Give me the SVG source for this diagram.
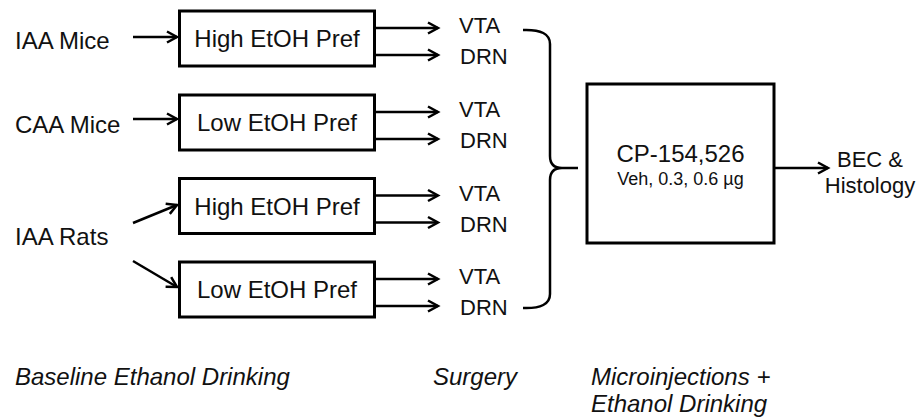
<svg xmlns="http://www.w3.org/2000/svg" width="921" height="420" viewBox="0 0 921 420">
  <style>
    text { font-family: "Liberation Sans", Arial, sans-serif; fill: #111; }
    .lbl { font-size: 24px; }
    .site { font-size: 22px; }
    .phase { font-size: 24px; font-style: italic; }
    .box { fill: #fff; stroke: #000; stroke-width: 3; }
    .arrow { fill: none; stroke: #000; stroke-width: 2.5; marker-end: url(#open); }
    .brace { fill: none; stroke: #000; stroke-width: 2.5; stroke-linejoin: round; }
  </style>
  <defs>
    <marker id="open" markerUnits="userSpaceOnUse" markerWidth="16" markerHeight="16" refX="12" refY="8" orient="auto" overflow="visible">
      <path d="M2,2.5 L12,8 L2,13.5" fill="none" stroke="#000" stroke-width="2.5" stroke-linejoin="miter"/>
    </marker>
  </defs>

  <rect width="921" height="420" fill="#fff"/>

  <!-- source groups -->
  <g id="iaa-mice"><text class="lbl" x="15" y="49">IAA Mice</text></g>
  <g id="caa-mice"><text class="lbl" x="15" y="133">CAA Mice</text></g>
  <g id="iaa-rats"><text class="lbl" x="15" y="245">IAA Rats</text></g>

  <!-- preference boxes -->
  <g id="mice-high">
    <rect class="box" x="179.5" y="11" width="195" height="55"/>
    <text class="lbl" x="277" y="47" text-anchor="middle">High EtOH Pref</text>
  </g>
  <g id="mice-low">
    <rect class="box" x="179.5" y="95" width="195" height="55"/>
    <text class="lbl" x="277" y="131" text-anchor="middle">Low EtOH Pref</text>
  </g>
  <g id="rats-high">
    <rect class="box" x="179.5" y="178.5" width="195" height="55"/>
    <text class="lbl" x="277" y="214.5" text-anchor="middle">High EtOH Pref</text>
  </g>
  <g id="rats-low">
    <rect class="box" x="179.5" y="262" width="195" height="55"/>
    <text class="lbl" x="277" y="298" text-anchor="middle">Low EtOH Pref</text>
  </g>

  <!-- surgery targets -->
  <g id="sites-1">
    <text class="site" x="459" y="33">VTA</text>
    <text class="site" x="460" y="64">DRN</text>
  </g>
  <g id="sites-2">
    <text class="site" x="459" y="117">VTA</text>
    <text class="site" x="460" y="148">DRN</text>
  </g>
  <g id="sites-3">
    <text class="site" x="459" y="200.5">VTA</text>
    <text class="site" x="460" y="231.5">DRN</text>
  </g>
  <g id="sites-4">
    <text class="site" x="459" y="284">VTA</text>
    <text class="site" x="460" y="315">DRN</text>
  </g>

  <!-- drug box -->
  <g id="cp-box">
    <rect class="box" x="587" y="84" width="187" height="159"/>
    <text class="lbl" x="680.5" y="162" text-anchor="middle">CP-154,526</text>
    <text x="680.5" y="185" text-anchor="middle" font-size="18">Veh, 0.3, 0.6 µg</text>
  </g>

  <g id="outcome">
    <text class="site" x="870" y="167" text-anchor="middle">BEC &amp;</text>
    <text class="site" x="870" y="193" text-anchor="middle">Histology</text>
  </g>

  <!-- connectors -->
  <g id="connectors">
    <line class="arrow" x1="133" y1="37" x2="177" y2="37"/>
    <line class="arrow" x1="133" y1="119" x2="177" y2="119"/>
    <line class="arrow" x1="133" y1="223" x2="177" y2="205"/>
    <line class="arrow" x1="133" y1="261" x2="177" y2="287"/>

    <line class="arrow" x1="375" y1="28" x2="438" y2="28"/>
    <line class="arrow" x1="375" y1="55" x2="438" y2="55"/>
    <line class="arrow" x1="375" y1="112" x2="438" y2="112"/>
    <line class="arrow" x1="375" y1="139" x2="438" y2="139"/>
    <line class="arrow" x1="375" y1="195.5" x2="438" y2="195.5"/>
    <line class="arrow" x1="375" y1="222.5" x2="438" y2="222.5"/>
    <line class="arrow" x1="375" y1="279" x2="438" y2="279"/>
    <line class="arrow" x1="375" y1="306" x2="438" y2="306"/>

    <path class="brace" d="M523,30 Q550,29 550,44 L550,156 Q550,168 562,168 L578,168 M562,168 Q550,168 550,180 L550,294 Q550,309 523,308"/>

    <line class="arrow" x1="774" y1="168" x2="828" y2="168"/>
  </g>

  <!-- phase captions -->
  <g id="phases">
    <text class="phase" x="15" y="385">Baseline Ethanol Drinking</text>
    <text class="phase" x="433" y="385">Surgery</text>
    <text class="phase" x="591" y="385">Microinjections +</text>
    <text class="phase" x="591" y="412">Ethanol Drinking</text>
  </g>
</svg>
